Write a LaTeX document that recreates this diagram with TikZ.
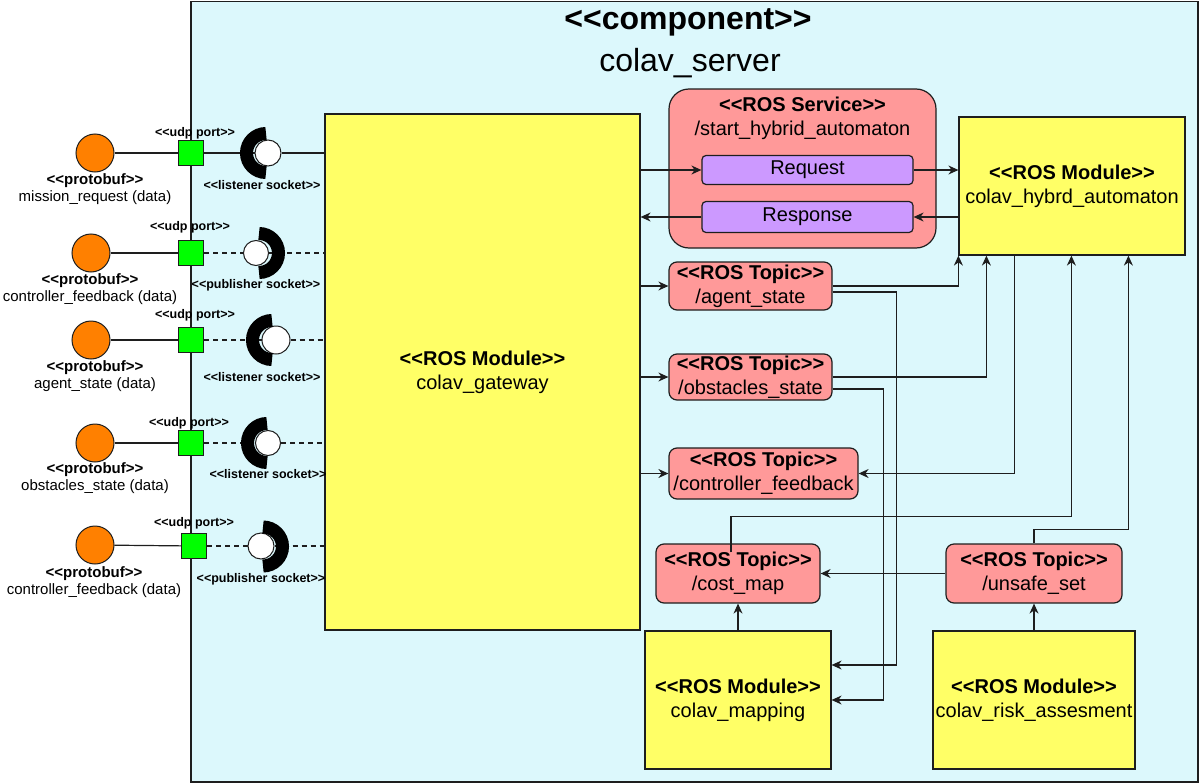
\documentclass[tikz,border=0pt]{standalone}
\usepackage{fontspec}
\setmainfont{Liberation Sans}
\usetikzlibrary{arrows.meta}
\definecolor{serverbg}{RGB}{220,248,252}
\definecolor{modyellow}{RGB}{255,255,102}
\definecolor{topicred}{RGB}{255,153,153}
\definecolor{msgpurple}{RGB}{204,153,255}
\definecolor{protoorange}{RGB}{255,128,0}
\definecolor{portgreen}{RGB}{0,255,0}
\definecolor{linecol}{RGB}{30,30,30}
\begin{document}
\begin{tikzpicture}[x=1pt,y=-1pt,
module/.style={draw=linecol, line width=1.2pt, fill=modyellow, align=center, inner sep=0pt, font=\fontsize{20}{24}\selectfont},
topic/.style={draw=linecol, line width=1.2pt, fill=topicred, rounded corners=8pt, align=center, inner sep=0pt, font=\fontsize{20}{24}\selectfont},
msg/.style={draw=linecol, line width=1.2pt, fill=msgpurple, rounded corners=4pt, inner sep=0pt, font=\fontsize{20}{24}\selectfont},
proto/.style={circle, draw=linecol, line width=1pt, fill=protoorange, minimum size=38pt, inner sep=0pt},
port/.style={draw=linecol, line width=1pt, fill=portgreen, minimum size=25pt, inner sep=0pt},
ball/.style={circle, draw=linecol, line width=1pt, fill=white, minimum size=26pt, inner sep=0pt},
cup/.style={line width=13pt, black},
tag/.style={inner sep=0pt, font=\fontsize{12.5}{14}\selectfont\bfseries},
data/.style={align=center, inner sep=0pt, font=\fontsize{15}{17}\selectfont},
conn/.style={line width=1.2pt, draw=linecol},
arr/.style={conn, -{Stealth[length=10pt,width=9pt]}},
sock/.style={conn, dash pattern=on 5pt off 4pt}]
\useasboundingbox (0,0) rectangle (1199,784);
\node[draw=linecol, line width=1.5pt, fill=serverbg, minimum width=1007pt, minimum height=780pt, inner sep=0pt, anchor=north west] (server) at (190,1) {};
\node[inner sep=0pt, font=\fontsize{32}{36}\selectfont\bfseries] (servertitle) at (688,22) {<{}<component>{}>};
\node[inner sep=0pt, font=\fontsize{32}{36}\selectfont] (servername) at (690,63) {colav\_server};

\node[module, minimum width=315pt, minimum height=516pt] (gateway) at (482.5,372) {\textbf{<{}<ROS Module>{}>}\\colav\_gateway};
\node[draw=linecol, line width=1.2pt, fill=topicred, rounded corners=20pt, minimum width=267pt, minimum height=159pt, inner sep=0pt] (service) at (802.5,168.5) {};
\node[align=center, inner sep=0pt, font=\fontsize{20}{24}\selectfont] (servicename) at (802.5,118) {\textbf{<{}<ROS Service>{}>}\\/start\_hybrid\_automaton};
\node[msg, minimum width=211pt, minimum height=29pt] (request) at (807.5,170) {Request};
\node[msg, minimum width=211pt, minimum height=31pt] (response) at (807.5,217) {Response};
\node[module, minimum width=226pt, minimum height=138pt] (hybrid) at (1072,186) {\textbf{<{}<ROS Module>{}>}\\colav\_hybrd\_automaton};
\node[topic, minimum width=163pt, minimum height=48pt] (agent) at (750.5,286) {\textbf{<{}<ROS Topic>{}>}\\/agent\_state};
\node[topic, minimum width=163pt, minimum height=46pt] (obstacles) at (750.5,377) {\textbf{<{}<ROS Topic>{}>}\\/obstacles\_state};
\node[topic, minimum width=189pt, minimum height=51pt] (feedback) at (763.5,473.5) {\textbf{<{}<ROS Topic>{}>}\\/controller\_feedback};
\node[topic, minimum width=164pt, minimum height=59pt] (costmap) at (738,573.5) {\textbf{<{}<ROS Topic>{}>}\\/cost\_map};
\node[topic, minimum width=176pt, minimum height=59pt] (unsafe) at (1034,573.5) {\textbf{<{}<ROS Topic>{}>}\\/unsafe\_set};
\node[module, minimum width=186pt, minimum height=138pt] (mapping) at (738,700) {\textbf{<{}<ROS Module>{}>}\\colav\_mapping};
\node[module, minimum width=202pt, minimum height=138pt] (risk) at (1034,700) {\textbf{<{}<ROS Module>{}>}\\colav\_risk\_assesment};

\draw[arr] (gateway.east |- request) -- (request.west);
\draw[arr] (request.east) -- (hybrid.west |- request);
\draw[arr] (hybrid.west |- response) -- (response.east);
\draw[arr] (response.west) -- (gateway.east |- response);
\draw[arr] (gateway.east |- agent) -- (agent.west);
\draw[arr] (gateway.east |- obstacles) -- (obstacles.west);
\draw[arr] (gateway.east |- feedback) -- (feedback.west);
\draw[arr] (agent.east) -| (hybrid.south west);
\draw[arr] ([yshift=-6pt]agent.east) -- ++(64,0) |- ([yshift=35pt]mapping.east);
\draw[arr] (obstacles.east) -| ([xshift=28pt]hybrid.south west);
\draw[arr] ([yshift=-12pt]obstacles.east) -- ++(51,0) |- (mapping.east);
\draw[arr] ([xshift=56pt]hybrid.south west) |- (feedback.east);
\draw[arr] ([xshift=-7pt,yshift=-9pt]costmap.north) -- ++(0,-36) -| ([xshift=113pt]hybrid.south west);
\draw[arr] (unsafe.north) -- ++(0,-14) -| ([xshift=170pt]hybrid.south west);
\draw[arr] (unsafe.west) -- (costmap.east);
\draw[arr] (mapping.north) -- (costmap.south);
\draw[arr] (risk.north) -- (unsafe.south);

\node[proto] (proto1) at (95,153) {};
\node[port] (port1) at (191,153) {};
\node[ball, minimum size=26pt] (ball1) at (268,153) {};
\node[tag] (udp1) at (195,133) {<{}<udp port>{}>};
\node[tag] (listener1) at (262,185) {<{}<listener socket>{}>};
\node[data] (data1) at (95,189.5) {\textbf{<{}<protobuf>{}>}\\mission\_request (data)};
\draw[conn] (proto1) -- (port1);
\draw[conn] (port1) -- (ball1);
\draw[conn] (ball1) -- (gateway.west |- ball1);
\draw[cup] (266,133.5) arc[start angle=90, end angle=270, radius=19.5pt];

\node[proto] (proto2) at (91,253) {};
\node[port] (port2) at (191,253) {};
\node[ball, minimum size=25pt] (ball2) at (256,253) {};
\node[tag] (udp2) at (190,227) {<{}<udp port>{}>};
\node[tag] (publisher2) at (256,285) {<{}<publisher socket>{}>};
\node[data] (data2) at (90,289) {\textbf{<{}<protobuf>{}>}\\controller\_feedback (data)};
\draw[conn] (proto2) -- (port2);
\draw[sock] (port2) -- (ball2);
\draw[sock] (ball2) -- (gateway.west |- ball2);
\draw[cup] (259,233.5) arc[start angle=90, end angle=-90, radius=19.5pt];

\node[proto] (proto3) at (91,340) {};
\node[port] (port3) at (191,340) {};
\node[ball, minimum size=28pt] (ball3) at (276,340) {};
\node[tag] (udp3) at (195,315) {<{}<udp port>{}>};
\node[tag] (listener3) at (262,377) {<{}<listener socket>{}>};
\node[data] (data3) at (95,376) {\textbf{<{}<protobuf>{}>}\\agent\_state (data)};
\draw[conn] (proto3) -- (port3);
\draw[sock] (port3) -- (ball3);
\draw[sock] (ball3) -- (gateway.west |- ball3);
\draw[cup] (272,320.5) arc[start angle=90, end angle=270, radius=19.5pt];

\node[proto] (proto4) at (95,443) {};
\node[port] (port4) at (191,443) {};
\node[ball, minimum size=25pt] (ball4) at (268,443) {};
\node[tag] (udp4) at (189,423) {<{}<udp port>{}>};
\node[tag] (listener4) at (268,474) {<{}<listener socket>{}>};
\node[data] (data4) at (95,478.5) {\textbf{<{}<protobuf>{}>}\\obstacles\_state (data)};
\draw[conn] (proto4) -- (port4);
\draw[sock] (port4) -- (ball4);
\draw[sock] (ball4) -- (gateway.west |- ball4);
\draw[cup] (267,423.5) arc[start angle=90, end angle=270, radius=19.5pt];

\node[proto] (proto5) at (95,545) {};
\node[port] (port5) at (194,546) {};
\node[ball, minimum size=26pt] (ball5) at (261,546) {};
\node[tag] (udp5) at (194,523) {<{}<udp port>{}>};
\node[tag] (publisher5) at (261,579) {<{}<publisher socket>{}>};
\node[data] (data5) at (94,582.5) {\textbf{<{}<protobuf>{}>}\\controller\_feedback (data)};
\draw[conn] (proto5) -- (port5);
\draw[sock] (port5) -- (ball5);
\draw[sock] (ball5) -- (gateway.west |- ball5);
\draw[cup] (263,527) arc[start angle=90, end angle=-90, radius=19.5pt];
\end{tikzpicture}
\end{document}
